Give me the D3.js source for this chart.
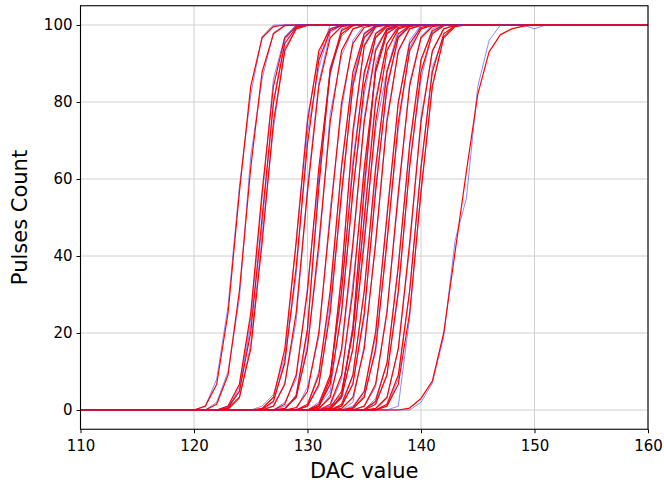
<!DOCTYPE html>
<html><head><meta charset="utf-8">
<script src="https://cdn.jsdelivr.net/npm/d3@7"></script>
<style>body{margin:0;background:#fff} text{font-family:"DejaVu Sans",sans-serif;fill:#000}</style>
</head><body><svg id="c" width="664" height="485"></svg>
<script>
const xTicks = [110, 120, 130, 140, 150, 160];
const yTicks = [0, 20, 40, 60, 80, 100];
const dacMin = 110, dacMax = 160;
const xLabel = "DAC value", yLabel = "Pulses Count";

// first DAC value of each listed run; below it the count is 0, after the list it is 100
const fitStart = [121,122,123,123,123,126,126,127,128,128,128,129,130,130,131,131,131,131,132,132,132,132,133,133,133,134,134,135,135,136,136,137,137,139];
const fitCounts = [
 [1.0,6.7,25.2,56.6,84.1,96.7,99.6],
 [1.5,9.1,30.9,63.0,87.8,97.7,99.8],
 [1.0,6.7,25.2,56.6,84.1,96.7,99.6],
 [0.6,4.8,20.2,50.0,79.8,95.2,99.4],
 [0.4,3.3,15.9,43.4,74.8,93.3,99.0,99.9],
 [0.4,3.3,15.9,43.4,74.8,93.3,99.0,99.9],
 [0.2,2.3,12.2,37.0,69.1,90.9,98.5,99.9],
 [1.0,6.7,25.2,56.6,84.1,96.7,99.6],
 [1.5,9.1,30.9,63.0,87.8,97.7,99.8],
 [0.3,3.6,21.2,57.9,88.5,98.6,99.9],
 [0.4,3.3,15.9,43.4,74.8,93.3,99.0,99.9],
 [0.6,4.8,20.2,50.0,79.8,95.2,99.4],
 [1.5,9.1,30.9,63.0,87.8,97.7,99.8],
 [1.0,6.7,25.2,56.6,84.1,96.7,99.6],
 [0.8,8.1,34.5,72.6,94.5,99.5],
 [1.5,9.1,30.9,63.0,87.8,97.7,99.8],
 [1.0,6.7,25.2,56.6,84.1,96.7,99.6],
 [0.4,3.3,15.9,43.4,74.8,93.3,99.0,99.9],
 [1.5,9.1,30.9,63.0,87.8,97.7,99.8],
 [0.3,3.6,21.2,57.9,88.5,98.6,99.9],
 [0.6,4.8,20.2,50.0,79.8,95.2,99.4],
 [0.4,3.3,15.9,43.4,74.8,93.3,99.0,99.9],
 [1.5,9.1,30.9,63.0,87.8,97.7,99.8],
 [1.0,6.7,25.2,56.6,84.1,96.7,99.6],
 [0.4,3.3,15.9,43.4,74.8,93.3,99.0,99.9],
 [0.6,4.8,20.2,50.0,79.8,95.2,99.4],
 [0.4,3.3,15.9,43.4,74.8,93.3,99.0,99.9],
 [1.0,6.7,25.2,56.6,84.1,96.7,99.6],
 [0.2,2.3,12.2,37.0,69.1,90.9,98.5,99.9],
 [1.5,9.1,30.9,63.0,87.8,97.7,99.8],
 [0.4,3.3,15.9,43.4,74.8,93.3,99.0,99.9],
 [1.5,9.1,30.9,63.0,87.8,97.7,99.8],
 [1.0,6.7,25.2,56.6,84.1,96.7,99.6],
 [0.5,3,7.5,20,41,62,82,93,97.5,99,99.7]
];
const dataStart = fitStart;
const dataCounts = [
 [1,8,27,58,82,97,100],
 [2,10,29,66,86,98,100],
 [0,6,24,55,86,97,100],
 [1,5,22,48,80,96,100],
 [0,3,17,45,73,94,99,100],
 [1,4,14,44,76,92,100,100],
 [0,2,13,35,72,89,99,100],
 [1,7,23,58,85,98,100],
 [2,8,32,61,89,97,100],
 [0,4,20,60,87,99,100],
 [1,3,17,41,77,92,99,100],
 [0,6,19,52,78,96,100],
 [1,10,29,64,86,98,100],
 [1,6,27,55,85,97,100],
 [1,7,36,71,95,100],
 [2,9,30,65,87,98,100],
 [1,5,26,57,82,97,100],
 [0,4,15,42,76,94,99,100],
 [1,8,33,61,88,99,100],
 [0,4,22,56,90,98,100],
 [1,4,21,49,81,95,100],
 [0,3,16,45,73,88,99,100],
 [1,9,31,62,88,97,100],
 [1,7,24,58,83,97,100],
 [0,2,17,43,76,93,99,100],
 [1,5,19,51,80,96,100],
 [0,4,15,44,73,94,100,100],
 [1,6,26,55,85,97,100],
 [0,3,12,38,68,91,99,100],
 [2,9,30,64,86,98,100],
 [0,3,16,42,76,93,99,100],
 [1,8,31,63,89,97,100],
 [0,1,24,57,84,97,100],
 [0,2,7,19,44,55,84,96,100,100,100,99,100]
];

const W = 664, H = 485;
const L = 80.5, R = 648, T = 5.75, B = 429.25;
const x = d3.scaleLinear().domain([dacMin, dacMax]).range([L, R]);
const y = d3.scaleLinear().domain([-5, 105]).range([B, T]);
const svg = d3.select("#c");

svg.append("defs").append("clipPath").attr("id","clip")
  .append("rect").attr("x",L).attr("y",T).attr("width",R-L).attr("height",B-T);

// grid
const grid = svg.append("g");
grid.selectAll(".gx").data(xTicks).enter().append("line")
  .attr("x1",d=>x(d)).attr("x2",d=>x(d)).attr("y1",T).attr("y2",B)
  .attr("stroke","#d0d0d0").attr("stroke-width",1);
grid.selectAll(".gy").data(yTicks).enter().append("line")
  .attr("x1",L).attr("x2",R).attr("y1",d=>y(d)).attr("y2",d=>y(d))
  .attr("stroke","#d0d0d0").attr("stroke-width",1);

function fullSeries(start, vals){
  const out = [];
  for (let d = dacMin; d <= dacMax; d++){
    let v;
    if (d < start) v = 0;
    else if (d - start < vals.length) v = vals[d - start];
    else v = 100;
    out.push([d, v]);
  }
  return out;
}
const line = d3.line().x(d=>x(d[0])).y(d=>y(d[1]));
const plot = svg.append("g").attr("clip-path","url(#clip)");
for (let i = 0; i < fitCounts.length; i++){
  plot.append("path").attr("d", line(fullSeries(dataStart[i], dataCounts[i])))
    .attr("fill","none").attr("stroke","#3b3bff").attr("stroke-opacity",0.75).attr("stroke-width",0.8);
  plot.append("path").attr("d", line(fullSeries(fitStart[i], fitCounts[i])))
    .attr("fill","none").attr("stroke","#ff0000").attr("stroke-width",1.2).attr("stroke-linejoin","round");
}

// axes
const xAxis = d3.axisBottom(x).tickValues(xTicks).tickSize(4).tickPadding(4).tickSizeOuter(0);
const yAxis = d3.axisLeft(y).tickValues(yTicks).tickSize(4).tickPadding(4).tickSizeOuter(0);
const gx = svg.append("g").attr("transform",`translate(0,${B})`).call(xAxis);
const gy = svg.append("g").attr("transform",`translate(${L},0)`).call(yAxis);
[gx,gy].forEach(g=>{
  g.select(".domain").remove();
  g.selectAll("text").attr("font-size",15).attr("font-family","DejaVu Sans").attr("fill","#000");
  g.selectAll("line").attr("stroke","#000").attr("stroke-width",1);
});
gx.selectAll("text").attr("dy","0.9em");

svg.append("rect").attr("x",L).attr("y",T).attr("width",R-L).attr("height",B-T)
  .attr("fill","none").attr("stroke","#000").attr("stroke-width",1.1);

svg.append("text").attr("x",(L+R)/2).attr("y",478).attr("text-anchor","middle")
  .attr("font-size",21).text(xLabel);
svg.append("text").attr("transform",`translate(27,${(T+B)/2}) rotate(-90)`).attr("text-anchor","middle")
  .attr("font-size",21).text(yLabel);
</script></body></html>
